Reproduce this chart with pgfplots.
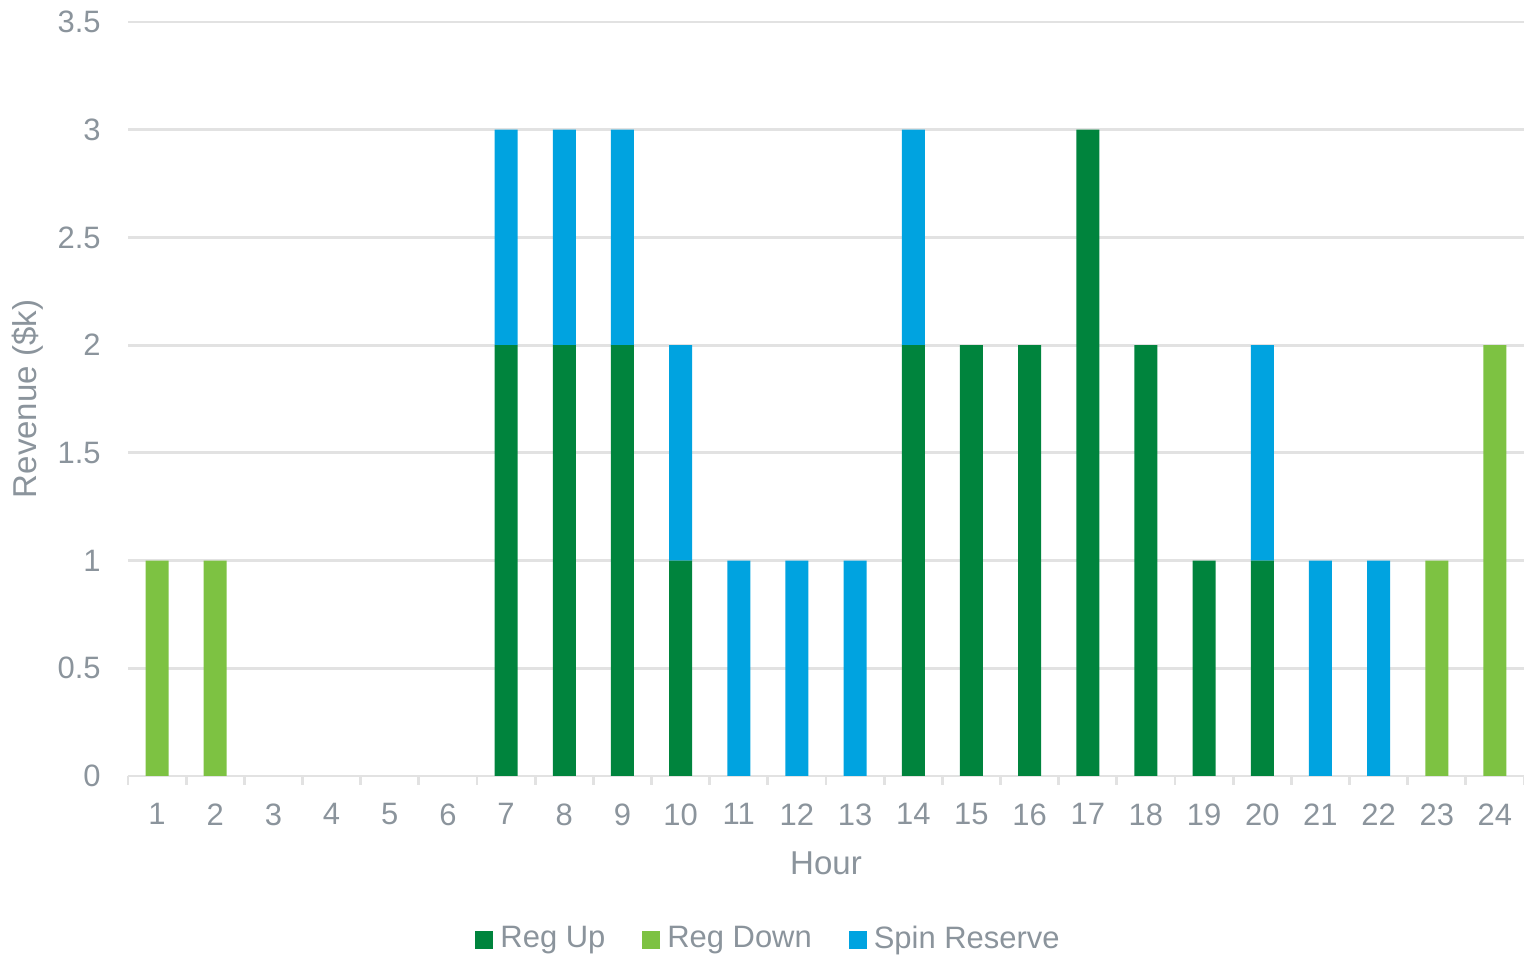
\documentclass[border=0pt]{standalone}
\usepackage{pgfplots}
\pgfplotsset{compat=1.18}
\usepackage{pgfplotstable}
\usepackage{fontspec}
\setmainfont{Liberation Sans}
\definecolor{regup}{HTML}{00843D}
\definecolor{regdown}{HTML}{7DC242}
\definecolor{spin}{HTML}{00A3E0}
\definecolor{txt}{HTML}{8B949C}
\definecolor{gridc}{HTML}{E2E2E2}
\pgfplotstableread{
hour up down spin
1 0 1 0
2 0 1 0
3 0 0 0
4 0 0 0
5 0 0 0
6 0 0 0
7 2 0 1
8 2 0 1
9 2 0 1
10 1 0 1
11 0 0 1
12 0 0 1
13 0 0 1
14 2 0 1
15 2 0 0
16 2 0 0
17 3 0 0
18 2 0 0
19 1 0 0
20 1 0 1
21 0 0 1
22 0 0 1
23 0 1 0
24 0 2 0
}\data
\begin{document}
\begin{tikzpicture}
\useasboundingbox (-1.28cm,-1.8cm) rectangle (13.96cm,7.76cm);
\begin{axis}[
  at={(0,0)}, anchor=south west,
  scale only axis, width=13.96cm, height=7.54cm,
  ybar stacked, bar width=0.23cm,
  xmin=0.5, xmax=24.5, ymin=0, ymax=3.5,
  xtick={1,...,24}, major x tick style={draw=none},
  minor xtick={0.5,1.5,...,24.5},
  minor x tick style={gridc, line width=0.8pt},
  minor tick length=0.09cm,
  tick align=outside,
  ytick={0,0.5,...,3.5},
  major y tick style={draw=none},
  ymajorgrids, grid style={gridc, line width=0.8pt},
  axis x line*=bottom, axis y line*=left,
  x axis line style={gridc, line width=0.8pt, -},
  y axis line style={draw=none},
  tick label style={txt, font=\fontsize{8.8}{11}\selectfont},
  /pgf/number format/assume math mode=true,
  xticklabel style={yshift=0.0cm},
  yticklabel style={xshift=0.0cm},
  xlabel={Hour}, ylabel={Revenue (\$k)},
  label style={txt, font=\fontsize{9.4}{12}\selectfont},
  xlabel style={yshift=-0.02cm},
  ylabel style={at={(rel axis cs:-0.0716,0.5)}, anchor=center, rotate=0},
  legend style={at={(0.4606,-0.2175)}, anchor=center, draw=none,
    font=\fontsize{8.8}{11}\selectfont, text=txt,
    /tikz/every even column/.append style={column sep=0.3cm}},
  legend columns=-1,
  legend image code/.code={\fill[#1] (0cm,-0.09cm) rectangle (0.18cm,0.09cm);},
]
\addplot[fill=regup, draw=none] table[x=hour, y=up] {\data};
\addplot[fill=regdown, draw=none] table[x=hour, y=down] {\data};
\addplot[fill=spin, draw=none] table[x=hour, y=spin] {\data};
\legend{Reg Up, Reg Down, Spin Reserve}
\end{axis}
\end{tikzpicture}
\end{document}
